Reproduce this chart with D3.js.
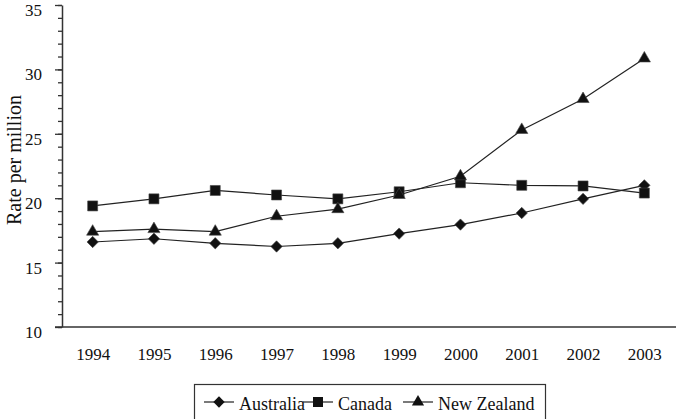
<!DOCTYPE html>
<html>
<head>
<meta charset="utf-8">
<script src="https://cdn.jsdelivr.net/npm/d3@7"></script>
<style>
  body { margin: 0; background: #fff; }
  svg, svg text { font-family: "Liberation Serif", "DejaVu Serif", serif !important; }
</style>
</head>
<body>
<script>
// data
var years = ["1994", "1995", "1996", "1997", "1998", "1999", "2000", "2001", "2002", "2003"];
var australia = [16.6, 16.85, 16.5, 16.25, 16.5, 17.25, 17.95, 18.85, 19.95, 21.0];
var canada = [19.4, 19.95, 20.6, 20.25, 19.95, 20.5, 21.2, 21.0, 20.95, 20.4];
var newZealand = [17.4, 17.6, 17.4, 18.6, 19.15, 20.25, 21.7, 25.3, 27.7, 30.85];
var yTicks = [10, 15, 20, 25, 30, 35];
var seriesNames = ["Australia", "Canada", "New Zealand"];

var svgWidth = 676;
var svgHeight = 419;

var svg = d3.select("body")
    .append("svg")
    .attr("width", svgWidth)
    .attr("height", svgHeight);

// scales
var xScale = d3.scalePoint()
    .domain(years)
    .range([62, 675])
    .padding(0.5);

var yScale = d3.scaleLinear()
    .domain([10, 35])
    .range([327, 5]);

var axisColor = "#333";

// minor ticks on y
var minorAxis = d3.axisLeft(yScale)
    .tickValues(d3.range(10, 36, 1))
    .tickSize(4)
    .tickFormat("");
var minorG = svg.append("g")
    .attr("transform", "translate(62,0)")
    .call(minorAxis);
minorG.select(".domain").remove();
minorG.selectAll("line").attr("stroke", axisColor).attr("stroke-width", 1.3);

// major y axis
var leftAxis = d3.axisLeft(yScale)
    .tickValues(yTicks)
    .tickSize(7)
    .tickSizeOuter(0)
    .tickPadding(13);
var yG = svg.append("g")
    .attr("transform", "translate(62,0)")
    .call(leftAxis);
yG.attr("font-family", null).attr("font-size", null);
yG.select(".domain").attr("stroke", axisColor).attr("stroke-width", 1.5);
yG.selectAll("line").attr("stroke", axisColor).attr("stroke-width", 1.3);
yG.selectAll("text")
    .attr("dy", "0.62em")
    .style("font-size", "17px")
    .attr("fill", "#111");

// x axis: labels only, line drawn separately
var bottomAxis = d3.axisBottom(xScale)
    .tickSize(0)
    .tickPadding(21);
var xG = svg.append("g")
    .attr("transform", "translate(0,327)")
    .call(bottomAxis);
xG.attr("font-family", null).attr("font-size", null);
xG.select(".domain").remove();
xG.selectAll("text")
    .style("font-size", "17px")
    .attr("fill", "#111");

svg.append("line")
    .attr("x1", 55)
    .attr("x2", 676)
    .attr("y1", yScale(10))
    .attr("y2", yScale(10))
    .attr("stroke", axisColor)
    .attr("stroke-width", 1.5);

// y axis title
svg.append("text")
    .attr("transform", "translate(21,160) rotate(-90)")
    .attr("text-anchor", "middle")
    .style("font-size", "20px")
    .attr("fill", "#111")
    .text("Rate per million");

// symbols
var diamond = d3.symbol().type(d3.symbolSquare).size(64);
var square = d3.symbol().type(d3.symbolSquare).size(100);
var triangle = d3.symbol().type(d3.symbolTriangle).size(64);

var series = [
    { name: seriesNames[0], values: australia, sym: diamond, rot: 45 },
    { name: seriesNames[1], values: canada, sym: square, rot: 0 },
    { name: seriesNames[2], values: newZealand, sym: triangle, rot: 0 }
];

var line = d3.line()
    .x(function(d, i) { return xScale(years[i]); })
    .y(function(d) { return yScale(d); });

series.forEach(function(s) {
    svg.append("path")
        .datum(s.values)
        .attr("d", line)
        .attr("fill", "none")
        .attr("stroke", "#222")
        .attr("stroke-width", 1.2);
});

series.forEach(function(s) {
    svg.selectAll(null)
        .data(s.values)
        .enter()
        .append("path")
        .attr("d", s.sym)
        .attr("transform", function(d, i) {
            return "translate(" + xScale(years[i]) + "," + yScale(d) + ") rotate(" + s.rot + ")";
        })
        .attr("fill", "#111")
        .attr("stroke", "#444")
        .attr("stroke-width", 0.6);
});

// legend
var legend = svg.append("g");
legend.append("rect")
    .attr("x", 194.5)
    .attr("y", 384.5)
    .attr("width", 351)
    .attr("height", 45)
    .attr("fill", "#fff")
    .attr("stroke", axisColor)
    .attr("stroke-width", 1.2);

var legendX = [204, 303, 403];
var legendY = 402;
series.forEach(function(s, i) {
    var g = legend.append("g").attr("transform", "translate(" + legendX[i] + "," + legendY + ")");
    g.append("line")
        .attr("x1", 0).attr("x2", 30)
        .attr("stroke", "#222")
        .attr("stroke-width", 1.2);
    g.append("path")
        .attr("d", s.sym)
        .attr("transform", "translate(15,0) rotate(" + s.rot + ")")
        .attr("fill", "#111");
    g.append("text")
        .attr("x", 35)
        .attr("y", 8)
        .style("font-size", "18px")
        .attr("fill", "#111")
        .text(s.name);
});
</script>
</body>
</html>
